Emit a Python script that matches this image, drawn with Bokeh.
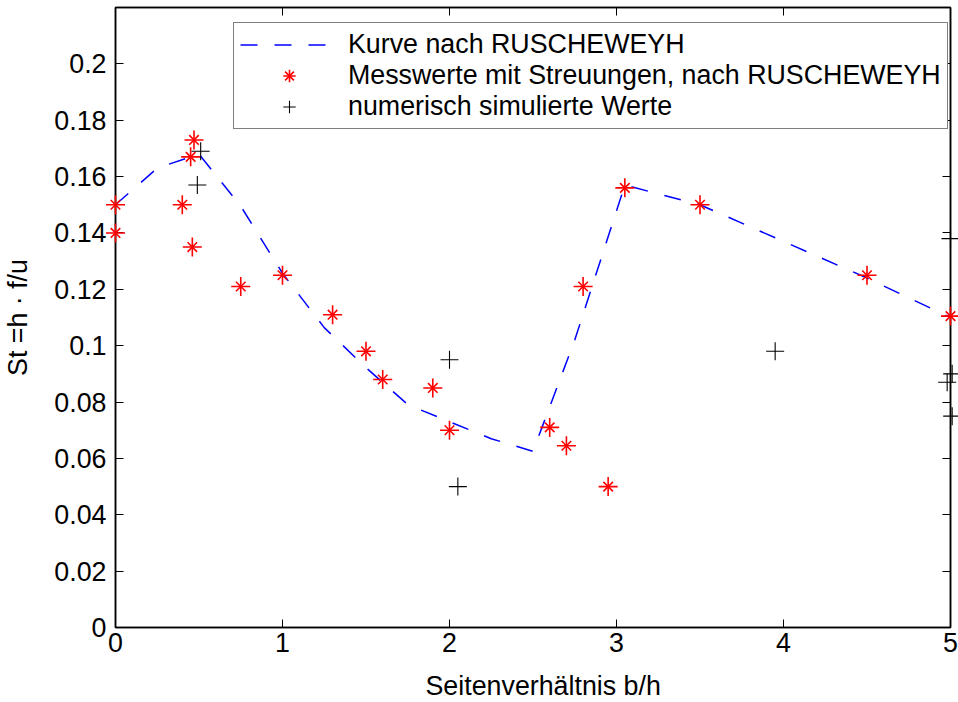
from bokeh.plotting import figure
from bokeh.models import (Range1d, LinearAxis, FixedTicker, CustomJSTickFormatter,
                          Legend, LegendItem, ColumnDataSource, Title)
from bokeh.embed import file_html
from bokeh.resources import INLINE

# Strouhal number versus side ratio
curve_x = [0.0, 0.25, 0.5, 0.75, 1.0, 1.25, 1.5, 1.75, 2.0, 2.25, 2.5, 2.75,
           3.05, 3.5, 4.0, 4.5, 5.0]
curve_y = [0.150, 0.163, 0.168, 0.1495, 0.1257, 0.1064, 0.0922, 0.0791, 0.0730,
           0.0670, 0.0625, 0.102, 0.157, 0.150, 0.137, 0.124, 0.110]

meas_x = [0.0, 0.0, 0.40, 0.45, 0.47, 0.46, 0.75, 1.0, 1.30, 1.50, 1.60, 1.90,
          2.0, 2.60, 2.70, 2.80, 2.95, 3.05, 3.50, 4.50, 5.0]
meas_y = [0.150, 0.140, 0.150, 0.167, 0.173, 0.135, 0.121, 0.125, 0.111, 0.098,
          0.088, 0.085, 0.070, 0.071, 0.0645, 0.121, 0.050, 0.156, 0.150, 0.125,
          0.1105]

sim_x = [0.49, 0.51, 2.0, 2.05, 3.95, 4.98, 5.0, 5.01, 5.01]
sim_y = [0.157, 0.169, 0.095, 0.050, 0.098, 0.087, 0.138, 0.090, 0.075]

x_ticks = [0, 1, 2, 3, 4, 5]
y_ticks = [0.0, 0.02, 0.04, 0.06, 0.08, 0.10, 0.12, 0.14, 0.16, 0.18, 0.20]

FONT = "Liberation Sans"
FS = "26.8px"

p = figure(frame_width=835, frame_height=620,
           min_border_left=115, min_border_right=8, min_border_top=7,
           min_border_bottom=6,
           x_range=Range1d(0, 5), y_range=Range1d(0, 0.22),
           output_backend="svg", toolbar_location=None,
           background_fill_color="white", border_fill_color="white")
p.grid.visible = False
p.outline_line_color = "black"
p.outline_line_width = 1.5

fmt = CustomJSTickFormatter(code="return String(Number(tick.toFixed(2)));")

for ax in (p.xaxis[0], p.yaxis[0]):
    ax.major_tick_in = 8
    ax.major_tick_out = 0
    ax.minor_tick_in = 0
    ax.minor_tick_out = 0
    ax.axis_line_width = 1.5
    ax.major_tick_line_width = 1
    ax.major_label_text_font = FONT
    ax.major_label_text_font_size = FS
    ax.major_label_text_color = "black"
    ax.axis_label_text_font = FONT
    ax.axis_label_text_font_size = FS
    ax.axis_label_text_font_style = "normal"
    ax.axis_label_text_color = "black"

p.xaxis[0].ticker = FixedTicker(ticks=x_ticks)
p.yaxis[0].ticker = FixedTicker(ticks=y_ticks)
p.yaxis[0].formatter = fmt
p.yaxis[0].axis_label = "St =h · f/u"
p.xaxis[0].major_label_standoff = 5
p.yaxis[0].major_label_standoff = 9
p.yaxis[0].axis_label_standoff = 18

# x axis title, set slightly right of the frame centre
p.add_layout(Title(text="Seitenverhältnis b/h", align="left", offset=310,
                   text_font=FONT, text_font_size=FS, text_font_style="normal",
                   text_color="black", standoff=28), "below")

# inward ticks on the top and right edges of the box
blank = CustomJSTickFormatter(code="return '';")
for loc, tk in (("above", x_ticks), ("right", y_ticks)):
    ax = LinearAxis(ticker=FixedTicker(ticks=tk), formatter=blank,
                    major_tick_in=8, major_tick_out=0,
                    minor_tick_in=0, minor_tick_out=0,
                    major_label_text_font_size="1px", major_label_standoff=0,
                    axis_line_width=1.5)
    p.add_layout(ax, loc)

curve = p.line(curve_x, curve_y, line_color="#0000ff", line_width=1.5,
               line_dash="17 17")

src_m = ColumnDataSource(dict(x=meas_x, y=meas_y))
m_cross = p.scatter("x", "y", source=src_m, marker="cross", size=19,
                    line_color="#ff0000", line_width=1.6, level="overlay")
m_diag = p.scatter("x", "y", source=src_m, marker="x", size=13.5,
                   line_color="#ff0000", line_width=1.6, level="overlay")

sim = p.scatter(sim_x, sim_y, marker="cross", size=18, line_color="black",
                line_width=1.1, level="overlay")

legend = Legend(items=[
    LegendItem(label="Kurve nach RUSCHEWEYH", renderers=[curve]),
    LegendItem(label="Messwerte mit Streuungen, nach RUSCHEWEYH",
               renderers=[m_cross, m_diag]),
    LegendItem(label="numerisch simulierte Werte", renderers=[sim]),
], location=(118, 498))
legend.label_text_font = FONT
legend.label_text_font_size = FS
legend.label_text_color = "black"
legend.glyph_width = 98
legend.glyph_height = 31
legend.label_height = 31
legend.label_standoff = 10
legend.spacing = 0
legend.padding = 6
legend.margin = 0
legend.border_line_color = "black"
legend.border_line_width = 1.5
legend.background_fill_color = "white"
legend.background_fill_alpha = 1.0
p.add_layout(legend)

open("out.html", "w").write(file_html(p, INLINE))
